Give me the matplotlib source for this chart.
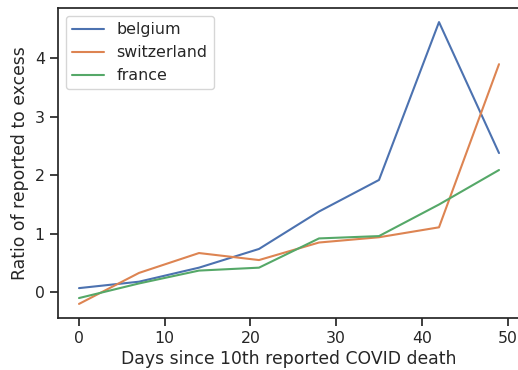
import matplotlib
matplotlib.use("Agg")
import matplotlib.pyplot as plt
import seaborn as sns

sns.set_theme(style="ticks")

days = [0, 7, 14, 21, 28, 35, 42, 49]
belgium = [0.07, 0.18, 0.42, 0.74, 1.38, 1.92, 4.62, 2.38]
switzerland = [-0.20, 0.33, 0.67, 0.55, 0.85, 0.94, 1.11, 3.90]
france = [-0.10, 0.15, 0.37, 0.42, 0.92, 0.96, 1.50, 2.09]

fig = plt.figure(figsize=(5.18, 3.70), dpi=100)
ax = fig.add_axes([58 / 518, 1 - 318 / 370, 462 / 518, 310 / 370])

ax.plot(days, belgium, label="belgium")
ax.plot(days, switzerland, label="switzerland")
ax.plot(days, france, label="france")

ax.tick_params(labelsize=11.3)
ax.set_xlabel("Days since 10th reported COVID death", fontsize=12.4, labelpad=3)
ax.set_ylabel("Ratio of reported to excess", fontsize=12.4)
ax.legend(loc="upper left", fontsize=11.4)

fig.savefig("out.png", dpi=100)
